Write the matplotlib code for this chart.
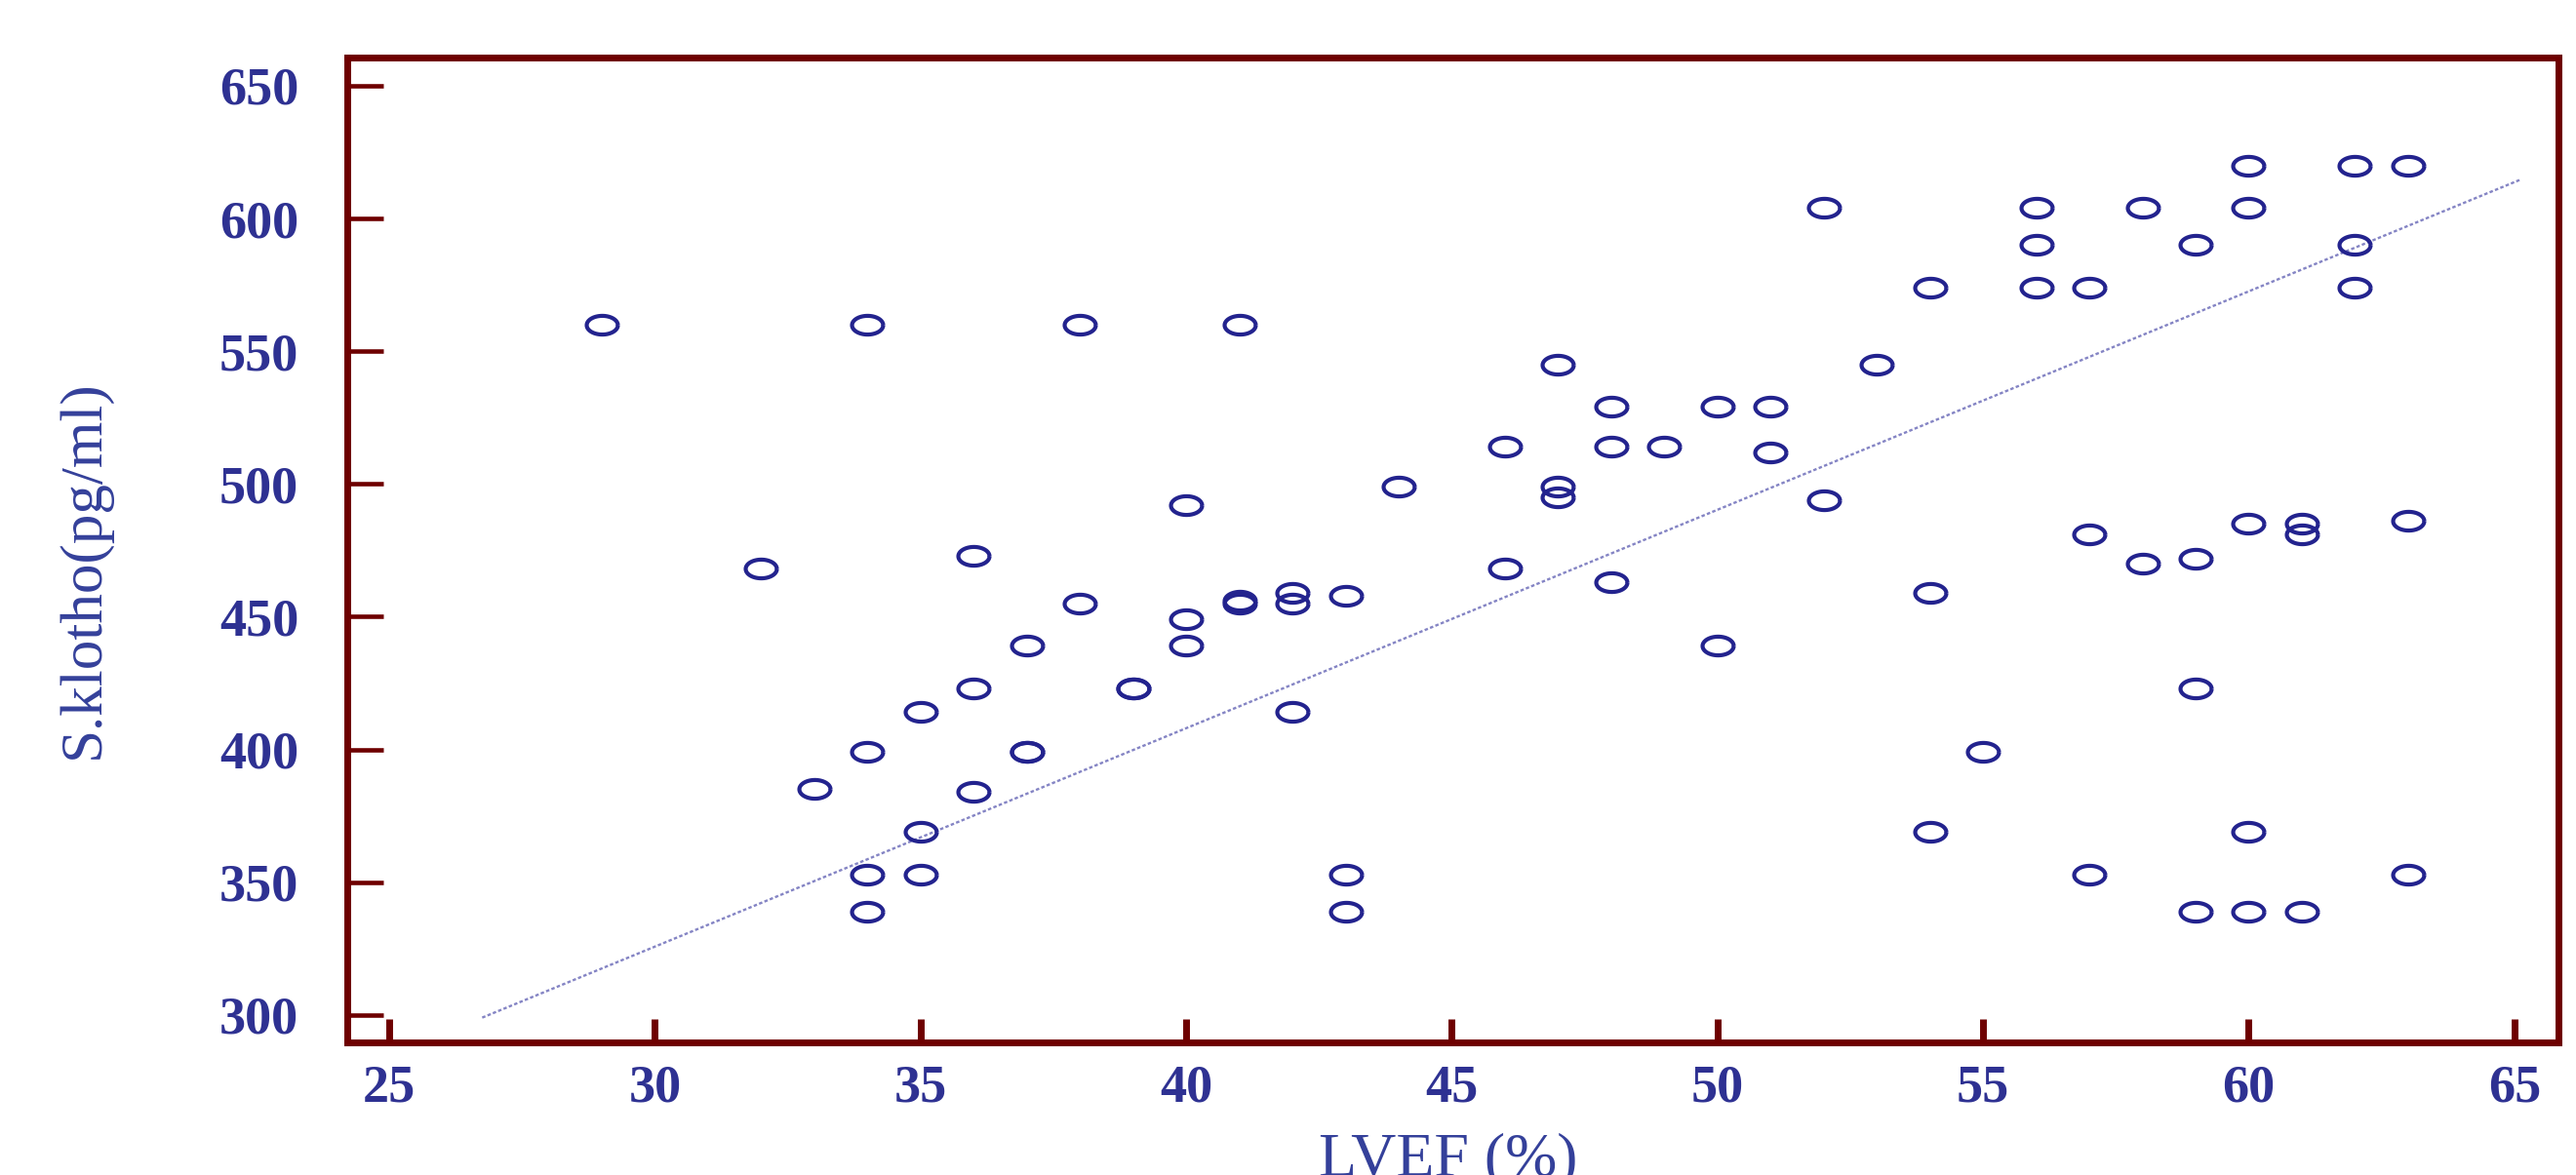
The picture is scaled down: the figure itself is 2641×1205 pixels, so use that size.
import numpy as np
import matplotlib
matplotlib.use("Agg")
import matplotlib.pyplot as plt
from matplotlib.path import Path

# LVEF (%) and serum klotho (pg/ml), grouped by LVEF
lvef = [29, 32, 33,
        34, 34, 34, 34,
        35, 35, 35,
        36, 36, 36,
        37, 37, 37,
        38, 38,
        39, 39,
        40, 40, 40,
        41, 41, 41,
        42, 42, 42,
        43, 43, 43,
        44,
        46, 46,
        47, 47, 47,
        48, 48, 48,
        49,
        50, 50,
        51, 51,
        52, 52,
        53,
        54, 54, 54,
        55,
        56, 56, 56,
        57, 57, 57,
        58, 58,
        59, 59, 59, 59,
        60, 60, 60, 60, 60,
        61, 61, 61,
        62, 62, 62,
        63, 63, 63]
klotho = [560, 468, 385,
          560, 399, 353, 339,
          414, 369, 353,
          473, 423, 384,
          439, 399, 399,
          560, 455,
          423, 423,
          492, 449, 439,
          560, 456, 455,
          459, 455, 414,
          458, 353, 339,
          499,
          514, 468,
          545, 499, 495,
          529, 514, 463,
          514,
          529, 439,
          529, 512,
          604, 494,
          545,
          574, 459, 369,
          399,
          604, 590, 574,
          574, 481, 353,
          604, 470,
          590, 472, 423, 339,
          620, 604, 485, 369, 339,
          485, 481, 339,
          620, 590, 574,
          620, 486, 353]

# regression line as drawn in the chart (start / end)
fit_x = [26.75, 65.1]
fit_y = [299, 614.5]

xticks = [25, 30, 35, 40, 45, 50, 55, 60, 65]
yticks = [300, 350, 400, 450, 500, 550, 600, 650]

plt.rcParams['font.family'] = ['Liberation Serif', 'DejaVu Serif']

# slightly flattened circle, like the original markers
t = np.linspace(0, 2 * np.pi, 64)
ellipse = Path(np.column_stack([np.cos(t), 0.6 * np.sin(t)]))

fig = plt.figure(figsize=(26.41, 12.05), dpi=100)
ax = fig.add_axes([0.1348, 0.1127, 0.8582, 0.8381])

ax.plot(fit_x, fit_y, color='#8484c4', lw=1.7, ls=(0, (1.5, 1)))
ax.plot(lvef, klotho, ls='none', marker=ellipse, ms=23, mfc='none',
        mec='#23238e', mew=3.0)

ax.set_xlim(24.21, 65.82)
ax.set_ylim(289.6, 660.5)
ax.set_xticks(xticks)
ax.set_yticks(yticks)

dark_red = '#6e0000'
for s in ax.spines.values():
    s.set_color(dark_red)
    s.set_linewidth(5)

ax.tick_params(axis='y', direction='in', length=26.6, width=3.3, color=dark_red,
               pad=36, labelsize=39, labelcolor='#2e3192')
ax.tick_params(axis='x', direction='in', length=17.4, width=5, color=dark_red,
               pad=16, labelsize=39, labelcolor='#2e3192')
for lbl in ax.get_xticklabels() + ax.get_yticklabels():
    lbl.set_fontweight('bold')

fig.text(0.0326, 0.5154, 'S.klotho(pg/ml)', rotation=90, ha='center', va='center',
         fontsize=44, color='#34409a')
fig.text(0.5623, 0.0, 'LVEF (%)', ha='center', va='baseline',
         fontsize=46, color='#34409a')

fig.savefig('out.png', dpi=100)
